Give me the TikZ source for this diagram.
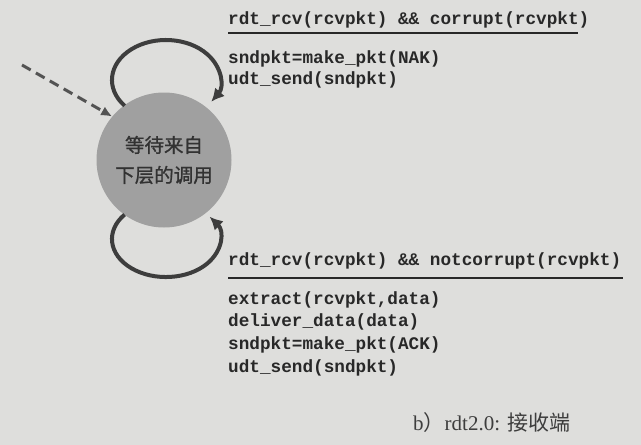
\documentclass[tikz,border=0pt]{standalone}
\usepackage{fontspec}
\setmainfont{Liberation Serif}
\setmonofont{Liberation Mono}
\newfontfamily\cjk{Noto Sans CJK SC}
\newfontfamily\cjkheavy[FakeBold=1]{Noto Sans CJK SC}
\usetikzlibrary{arrows.meta}
\definecolor{paper}{RGB}{222,222,220}
\definecolor{ink}{RGB}{40,40,40}
\definecolor{disk}{RGB}{160,160,160}
\definecolor{disktext}{RGB}{50,50,50}
\begin{document}
\begin{tikzpicture}[x=1pt,y=-1pt,
  code/.style={anchor=base west, inner sep=0pt, text=ink,
    font=\fontsize{17.7}{20}\selectfont\ttfamily\bfseries},
  selfloop/.style={line width=4pt, draw=ink!90, -{Latex[length=13pt,width=13pt]}},
  entry/.style={line width=3pt, draw=ink!80, dash pattern=on 10pt off 6pt,
    -{Latex[length=11pt,width=10pt]}},
  guardrule/.style={line width=2.6pt, draw=ink},
  state/.style={circle, fill=disk, minimum size=135pt, inner sep=0pt,
    align=center, text=disktext, font=\cjkheavy\fontsize{19.5}{30}\selectfont}]
\fill[paper] (0,0) rectangle (641,445);
\useasboundingbox (0,0) rectangle (641,445);

% state
\node[state] (s) at (164,160) {等待来自\\下层的调用};

% initial (dashed) arrow
\coordinate (d0) at (22,65);
\draw[entry] (d0) -- (s.140);

% upper self-loop
\coordinate (t0) at (124.6,105.7);
\draw[selfloop] (t0) arc[start angle=140, end angle=393, x radius=54, y radius=40];

% lower self-loop
\coordinate (b0) at (124.6,214.6);
\draw[selfloop] (b0) arc[start angle=220, end angle=-36, x radius=54, y radius=38];

% upper transition label
\node[code] (g1) at (228,24) {rdt\_rcv(rcvpkt) \&\& corrupt(rcvpkt)};
\coordinate (r1a) at (228,33);
\coordinate (r1b) at (578,33);
\draw[guardrule] (r1a) -- (r1b);
\node[code] (a1) at (228,63) {sndpkt=make\_pkt(NAK)};
\node[code] (a2) at (228,84) {udt\_send(sndpkt)};

% lower transition label
\node[code] (g2) at (228,265) {rdt\_rcv(rcvpkt) \&\& notcorrupt(rcvpkt)};
\coordinate (r2a) at (228,278);
\coordinate (r2b) at (623,278);
\draw[guardrule] (r2a) -- (r2b);
\node[code] (c1) at (228,304) {extract(rcvpkt,data)};
\node[code] (c2) at (228,326) {deliver\_data(data)};
\node[code] (c3) at (228,349) {sndpkt=make\_pkt(ACK)};
\node[code] (c4) at (228,372) {udt\_send(sndpkt)};

% caption
\node[anchor=base west, inner sep=0pt, text=ink!90, font=\fontsize{21}{24}\selectfont]
  (cap) at (413,430) {b{\cjk ）}rdt2.0: {\cjk 接收端}};
\end{tikzpicture}
\end{document}
